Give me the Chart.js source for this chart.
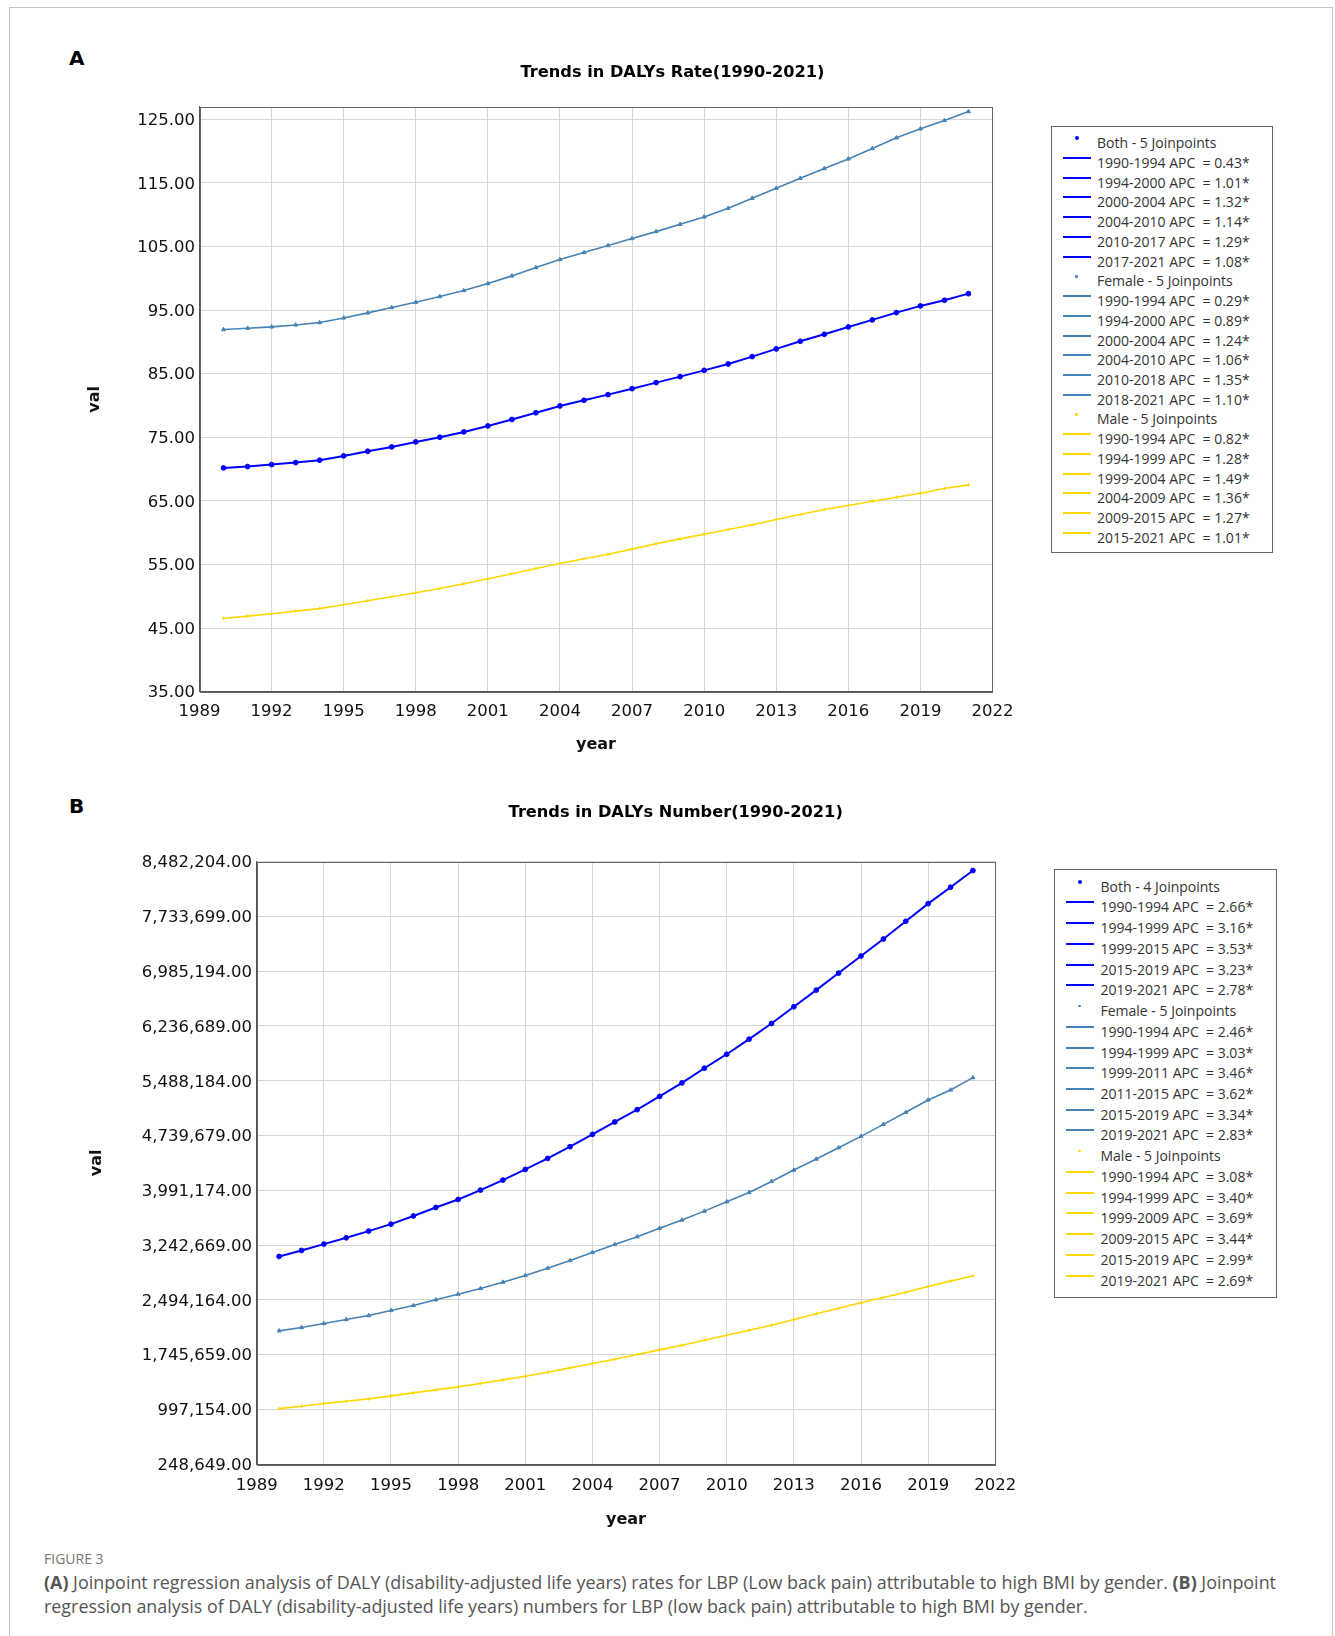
<!DOCTYPE html>
<html>
<head>
<meta charset="utf-8">
<script src="https://cdn.jsdelivr.net/npm/chart.js@4.4.1/dist/chart.umd.min.js"></script>
<style>
html,body{margin:0;padding:0;background:#fff;}
body{width:1335px;height:1636px;position:relative;overflow:hidden;font-family:'DejaVu Sans',sans-serif;}
.frame{position:absolute;left:9px;top:7px;width:1324px;height:1700px;border:1px solid #c4c4c4;box-sizing:border-box;}
.panel{position:absolute;left:69px;font-family:'DejaVu Sans';font-weight:bold;font-size:20px;line-height:20px;color:#000;}
canvas{position:absolute;left:0;}
.legend{position:absolute;border:1px solid #666;box-sizing:border-box;background:#fff;}
.lg-line{position:absolute;height:2px;}
.lg-dot{position:absolute;border-radius:50%;}
.lg-tx{position:absolute;white-space:pre;font-family:'Open Sans',sans-serif;font-size:14px;line-height:20px;height:20px;color:#333;}
.caption{position:absolute;left:44px;color:#555;font-family:'Open Sans',sans-serif;white-space:nowrap;}
.fig{position:absolute;left:44px;top:1549px;color:#777;font-family:'Open Sans',sans-serif;font-size:14px;line-height:20px;}
.cap1{top:1570px;font-size:17.9px;line-height:24px;}
.cap2{top:1594px;font-size:17.9px;line-height:24px;}
</style>
</head>
<body>
<div class="frame"></div>
<div class="panel" style="top:48px">A</div>
<div class="panel" style="top:796px">B</div>
<canvas id="chartA" width="1335" height="770" style="top:0px"></canvas>
<canvas id="chartB" width="1335" height="775" style="top:770px"></canvas>
<div id="legendA" class="legend"></div>
<div id="legendB" class="legend"></div>
<div class="fig">FIGURE 3</div>
<div class="caption cap1"><b>(A)</b> Joinpoint regression analysis of DALY (disability-adjusted life years) rates for LBP (Low back pain) attributable to high BMI by gender. <b>(B)</b> Joinpoint</div>
<div class="caption cap2">regression analysis of DALY (disability-adjusted life years) numbers for LBP (low back pain) attributable to high BMI by gender.</div>
<script>
// ---------------- DATA ----------------
const years = [1990,1991,1992,1993,1994,1995,1996,1997,1998,1999,2000,2001,2002,2003,2004,2005,
               2006,2007,2008,2009,2010,2011,2012,2013,2014,2015,2016,2017,2018,2019,2020,2021];

// Panel A: DALYs rate
const rateBoth   = [70.18,70.39,70.71,71.02,71.39,72.07,72.80,73.48,74.27,75.00,75.84,76.78,77.80,78.85,79.92,80.81,
                    81.70,82.64,83.59,84.53,85.52,86.52,87.68,88.89,90.09,91.19,92.34,93.45,94.60,95.65,96.54,97.58];
const rateFemale = [91.93,92.14,92.35,92.66,93.03,93.76,94.55,95.39,96.23,97.12,98.06,99.16,100.37,101.68,102.94,104.04,
                    105.14,106.24,107.33,108.49,109.64,111.00,112.58,114.15,115.72,117.24,118.76,120.39,122.07,123.50,124.80,126.20];
const rateMale   = [46.52,46.88,47.25,47.67,48.09,48.66,49.29,49.92,50.55,51.23,51.96,52.75,53.53,54.37,55.16,55.89,
                    56.62,57.41,58.25,59.03,59.76,60.50,61.23,62.07,62.85,63.64,64.27,64.95,65.58,66.20,66.94,67.51];

// Panel B: DALYs number
const numBoth   = [3087700,3169800,3256300,3342900,3434100,3529000,3641000,3757000,3866200,3993900,4130700,4276700,4427200,4586900,4755600,4924400,
                   5093200,5273000,5458100,5658800,5850300,6055600,6270000,6498000,6726100,6958700,7191400,7424000,7665700,7907500,8131000,8359000];
const numFemale = [2071500,2117100,2171800,2226400,2281100,2349500,2417800,2495300,2572800,2650200,2736800,2828000,2928200,3033000,3142400,3251800,
                   3356600,3473000,3585000,3707000,3835000,3962000,4112500,4267600,4418100,4573200,4728300,4892500,5056700,5225400,5362300,5531000];
const numMale   = [1009700,1041600,1078000,1109900,1141800,1182900,1223900,1264900,1305900,1351500,1401600,1451700,1506400,1565700,1624900,1684100,
                   1747900,1811700,1875500,1943900,2012300,2080600,2149000,2226400,2303900,2381400,2454300,2527200,2600100,2677600,2750500,2823400];

// Tick labels
const xTicks     = [1989,1992,1995,1998,2001,2004,2007,2010,2013,2016,2019,2022];
const rateYTicks = [35,45,55,65,75,85,95,105,115,125];
const numYTicks  = [248649,997154,1745659,2494164,3242669,3991174,4739679,5488184,6236689,6985194,7733699,8482204];

// Titles
const titleA = 'Trends in DALYs Rate(1990-2021)';
const titleB = 'Trends in DALYs Number(1990-2021)';
const seriesNames = ['Both','Female','Male'];

// Legend texts
const rateHeads = ['Both - 5 Joinpoints','Female - 5 Joinpoints','Male - 5 Joinpoints'];
const rateBothAPC   = ['1990-1994 APC  = 0.43*','1994-2000 APC  = 1.01*','2000-2004 APC  = 1.32*','2004-2010 APC  = 1.14*','2010-2017 APC  = 1.29*','2017-2021 APC  = 1.08*'];
const rateFemaleAPC = ['1990-1994 APC  = 0.29*','1994-2000 APC  = 0.89*','2000-2004 APC  = 1.24*','2004-2010 APC  = 1.06*','2010-2018 APC  = 1.35*','2018-2021 APC  = 1.10*'];
const rateMaleAPC   = ['1990-1994 APC  = 0.82*','1994-1999 APC  = 1.28*','1999-2004 APC  = 1.49*','2004-2009 APC  = 1.36*','2009-2015 APC  = 1.27*','2015-2021 APC  = 1.01*'];
const numHeads = ['Both - 4 Joinpoints','Female - 5 Joinpoints','Male - 5 Joinpoints'];
const numBothAPC   = ['1990-1994 APC  = 2.66*','1994-1999 APC  = 3.16*','1999-2015 APC  = 3.53*','2015-2019 APC  = 3.23*','2019-2021 APC  = 2.78*'];
const numFemaleAPC = ['1990-1994 APC  = 2.46*','1994-1999 APC  = 3.03*','1999-2011 APC  = 3.46*','2011-2015 APC  = 3.62*','2015-2019 APC  = 3.34*','2019-2021 APC  = 2.83*'];
const numMaleAPC   = ['1990-1994 APC  = 3.08*','1994-1999 APC  = 3.40*','1999-2009 APC  = 3.69*','2009-2015 APC  = 3.44*','2015-2019 APC  = 2.99*','2019-2021 APC  = 2.69*'];

// ---------------- STYLE ----------------
const COLORS = ['#0000ff','#4682b4','#ffd700'];
const POINT = [
  {pointStyle:'circle', pointRadius:2.4, borderWidth:2},
  {pointStyle:'triangle', pointRadius:2.3, borderWidth:1.6},
  {pointStyle:'cross', pointRadius:1.8, borderWidth:1.6}
];
const TICK_FONT = {family:"'DejaVu Sans', sans-serif", size:16.5};
const BOLD_FONT = {family:"'DejaVu Sans', sans-serif", size:16, weight:'bold', lineHeight:1.2};
const TITLE_FONT = {family:"'DejaVu Sans', sans-serif", size:16.2, weight:'bold', lineHeight:1.2};

const frameBorder = {
  id:'frameBorder',
  afterDraw(chart){
    const a = chart.chartArea, ctx = chart.ctx;
    ctx.save();
    ctx.strokeStyle = '#666';
    ctx.lineWidth = 1;
    ctx.strokeRect(Math.round(a.left)+0.5, Math.round(a.top)+0.5, Math.round(a.right-a.left)-1, Math.round(a.bottom-a.top));
    ctx.restore();
  }
};

function makeDatasets(arrs){
  return arrs.map((arr,i)=>({
    label: seriesNames[i],
    data: years.map((yr,j)=>({x:yr, y:arr[j]})),
    borderColor: COLORS[i],
    backgroundColor: COLORS[i],
    pointBorderColor: COLORS[i],
    pointBackgroundColor: COLORS[i],
    pointStyle: POINT[i].pointStyle,
    pointRadius: POINT[i].pointRadius,
    pointBorderWidth: 1,
    borderWidth: POINT[i].borderWidth,
    tension: 0,
    fill: false,
    yAxisID: 'y'
  }));
}

function makeChart(id, cfg){
  return new Chart(document.getElementById(id), {
    type:'line',
    data:{datasets: makeDatasets(cfg.arrs)},
    options:{
      responsive:false, animation:false, devicePixelRatio:1,
      layout:{padding:{left:cfg.padLeft, right:0, top:0, bottom:0}},
      plugins:{
        legend:{display:false},
        tooltip:{enabled:false},
        title:{display:true, text:cfg.title, color:'#000', font:TITLE_FONT,
               padding:{top:cfg.titleTop, bottom:cfg.titleBottom}}
      },
      scales:{
        x:{
          type:'linear', min:1989, max:2022,
          afterBuildTicks(s){ s.ticks = xTicks.map(v=>({value:v})); },
          afterFit(s){ s.height = cfg.xHeight; },
          grid:{color:'#d6d6d6', lineWidth:1, drawTicks:false},
          border:{color:'#555', width:1},
          ticks:{font:TICK_FONT, color:'#111', padding:cfg.xTickPad, maxRotation:0, autoSkip:false,
                 callback:v=>String(v)},
          title:{display:true, text:'year', color:'#111', font:BOLD_FONT, padding:{top:0,bottom:15.4}}
        },
        y:{
          type:'linear', position:'left', min:cfg.yMin, max:cfg.yMax,
          afterBuildTicks(s){ s.ticks = cfg.yTicks.map(v=>({value:v})); },
          afterFit(s){ s.width = cfg.yWidth; },
          grid:{color:'#d6d6d6', lineWidth:1, drawTicks:false},
          border:{color:'#555', width:1},
          ticks:{font:TICK_FONT, color:'#111', padding:cfg.yTickPad, autoSkip:false, labelOffset:1.5,
                 callback:v=>Number(v).toLocaleString('en-US',{minimumFractionDigits:2, maximumFractionDigits:2})},
          title:{display:true, text:'val', color:'#111', font:BOLD_FONT, padding:{top:cfg.valPad, bottom:0}}
        },
        // empty spacer on the right, keeps room for the legend panel
        spacer:{
          type:'linear', position:'right', display:true,
          afterFit(s){ s.width = cfg.rightWidth; },
          grid:{display:false, drawOnChartArea:false},
          border:{display:false},
          ticks:{display:false},
          title:{display:false}
        }
      }
    },
    plugins:[frameBorder]
  });
}

makeChart('chartA', {
  arrs:[rateBoth, rateFemale, rateMale], title:titleA,
  padLeft:10, rightWidth:1335-992.5, titleTop:63, titleBottom:24.5,
  xHeight:770-691.7, xTickPad:10.4, yWidth:189.5, yTickPad:4.5, valPad:75.4,
  yMin:35, yMax:126.93, yTicks:rateYTicks
});
makeChart('chartB', {
  arrs:[numBoth, numFemale, numMale], title:titleB,
  padLeft:16.4, rightWidth:1335-995.3, titleTop:33.1, titleBottom:39,
  xHeight:775-694.3, xTickPad:11.8, yWidth:240.3, yTickPad:4.7, valPad:71,
  yMin:248649, yMax:8482204, yTicks:numYTicks
});

// ---------------- LEGENDS (HTML) ----------------
function buildLegend(id, box, groups){
  const el = document.getElementById(id);
  el.style.left = box.left+'px'; el.style.top = box.top+'px';
  el.style.width = box.width+'px'; el.style.height = box.height+'px';
  let row = 0;
  groups.forEach((g,gi)=>{
    const rows = [{head:true, text:g.head}].concat(g.segs.map(t=>({head:false, text:t})));
    rows.forEach(r=>{
      const yc = box.first + row*box.gap;
      if (r.head){
        const d = document.createElement('div');
        d.className = 'lg-dot';
        const sz = gi===0 ? 4 : 2.5;
        d.style.width = sz+'px'; d.style.height = sz+'px';
        d.style.left = (box.lineX + 14 - sz/2)+'px'; d.style.top = (yc - 5 - sz/2)+'px';
        d.style.background = COLORS[gi];
        el.appendChild(d);
      } else {
        const l = document.createElement('div');
        l.className = 'lg-line';
        l.style.left = box.lineX+'px'; l.style.width = '28px';
        l.style.top = (yc - 5 - 1)+'px';
        l.style.background = COLORS[gi];
        el.appendChild(l);
      }
      const t = document.createElement('div');
      t.className = 'lg-tx';
      t.textContent = r.text;
      t.style.left = box.textX+'px';
      t.style.top = (yc - 10)+'px';
      el.appendChild(t);
      row++;
    });
  });
}
buildLegend('legendA', {left:1051, top:126, width:222, height:427, first:16.3, gap:19.72, lineX:10.5, textX:45},
  [{head:rateHeads[0], segs:rateBothAPC},{head:rateHeads[1], segs:rateFemaleAPC},{head:rateHeads[2], segs:rateMaleAPC}]);
buildLegend('legendB', {left:1054, top:869, width:223, height:429, first:16.7, gap:20.73, lineX:10.5, textX:45.5},
  [{head:numHeads[0], segs:numBothAPC},{head:numHeads[1], segs:numFemaleAPC},{head:numHeads[2], segs:numMaleAPC}]);
</script>
</body>
</html>
